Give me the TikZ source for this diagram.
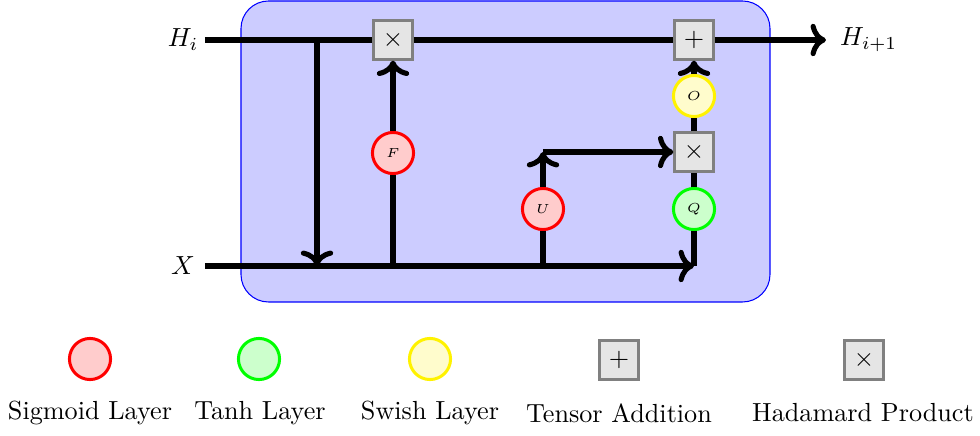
\documentclass[tikz,border=0pt]{standalone}
\usetikzlibrary{arrows.meta}
\begin{document}
\begin{tikzpicture}[x=0.382pt,y=-0.382pt,
  conn/.style={line width=1.95pt},
  arr/.style={line width=1.95pt,->},
  layer/.style={circle,line width=1.15pt,minimum size=15.7pt,inner sep=0pt,font=\tiny},
  sig/.style={layer,draw=red,fill=red!20},
  tanhl/.style={layer,draw=green,fill=green!20},
  swish/.style={layer,draw=yellow,fill=yellow!20},
  op/.style={rectangle,draw=gray,fill=gray!20,line width=1.15pt,minimum size=14.6pt,inner sep=0pt}]
\useasboundingbox (0,0) rectangle (980,436);
\draw[blue,fill=blue!20,rounded corners=10.5pt] (241,1) rectangle (770,302);
% labels
\node (Hi) at (183,40) {$H_i$};
\node (X) at (183,266) {$X$};
\node[anchor=west] (Hout) at (831,40) {$H_{i+1}$};
\coordinate (hs) at (205,40);
\coordinate (hend) at (826,40);
\coordinate (xs) at (205,266);
\coordinate (xe) at (694,266);
\coordinate (j1t) at (317,40);
\coordinate (j1b) at (317,266);
\coordinate (fb) at (393,266);
\coordinate (ub) at (543,266);
\coordinate (ut) at (543,152);
% operators and layers
\node[op] (m1) at (393,40) {$\times$};
\node[op] (a1) at (694,40) {$+$};
\node[swish] (O) at (694,96) {$O$};
\node[op] (m2) at (694,152) {$\times$};
\node[tanhl] (Q) at (694,209) {$Q$};
\node[sig] (U) at (543,209) {$U$};
\node[sig] (F) at (393,153) {$F$};
% connectors
\draw[conn] (hs) -- (m1.west);
\draw[conn] (m1.east) -- (a1.west);
\draw[arr] (a1.east) -- (hend);
\draw[arr] (j1t) -- (j1b);
\draw[arr] (xs) -- (xe);
\draw[conn] (xe) -- (Q.south);
\draw[conn] (fb) -- (F.south);
\draw[arr] (F.north) -- (m1.south);
\draw[conn] (ub) -- (U.south);
\draw[arr] (U.north) -- (ut);
\draw[arr] (ut) -- (m2.west);
\draw[conn] (Q.north) -- (m2.south);
\draw[conn] (m2.north) -- (O.south);
\draw[arr] (O.north) -- (a1.south);
% legend
\node[sig] (l1) at (90,359) {};
\node[tanhl] (l2) at (259,359) {};
\node[swish] (l3) at (430,359) {};
\node[op] (l4) at (619,360) {$+$};
\node[op] (l5) at (864,360) {$\times$};
\node (t1) at (90,413) {Sigmoid Layer};
\node (t2) at (260,413) {Tanh Layer};
\node (t3) at (430,413) {Swish Layer};
\node (t4) at (619,413) {Tensor Addition};
\node (t5) at (863,413) {Hadamard Product};
\end{tikzpicture}
\end{document}
